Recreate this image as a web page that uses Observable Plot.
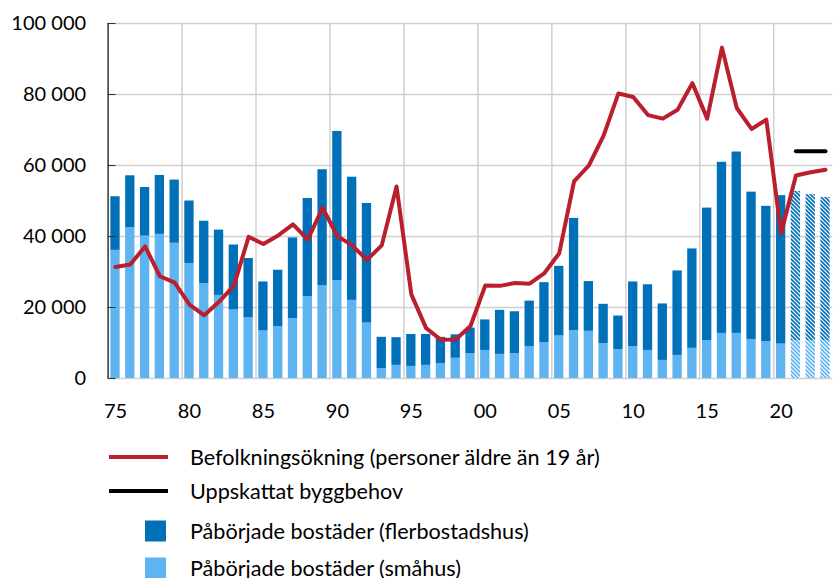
<!DOCTYPE html>
<html>
<head>
<meta charset="utf-8">
<script src="https://cdn.jsdelivr.net/npm/d3@7"></script>
<script src="https://cdn.jsdelivr.net/npm/@observablehq/plot@0.6"></script>
<style>
  body { margin: 0; background: #fff; }
  #chart { width: 838px; height: 578px; position: relative; overflow: hidden; }
  svg { display: block; }
</style>
</head>
<body>
<div id="chart"></div>
<script>
const years = [1975,1976,1977,1978,1979,1980,1981,1982,1983,1984,1985,1986,1987,1988,1989,
  1990,1991,1992,1993,1994,1995,1996,1997,1998,1999,2000,2001,2002,2003,2004,2005,2006,2007,
  2008,2009,2010,2011,2012,2013,2014,2015,2016,2017,2018,2019,2020,2021,2022,2023];
const labelYears = [1975,1980,1985,1990,1995,2000,2005,2010,2015,2020];
const gridYears = [1980,1985,1990,1995,2000,2005,2010,2015,2020];
const yTicks = [0,20000,40000,60000,80000,100000];

// Påbörjade bostäder (småhus)
const smahus = [36100,42500,40100,40600,38100,32400,26700,23400,19300,17100,13400,14600,16900,23100,26100,
  27600,22000,15600,2800,3700,3400,3700,4200,5700,7000,7900,6800,7000,9000,10100,12000,13500,13300,
  9800,8100,9000,7900,5100,6500,8500,10700,12700,12700,11000,10400,9700,10700,10700,10700];
// Påbörjade bostäder (flerbostadshus)
const flerbostadshus = [15100,14600,13700,16600,17800,17600,17600,18400,18300,16700,13800,15900,22700,27600,32700,
  42000,34700,33700,8800,7800,9000,8700,7400,6600,7200,8600,12400,11800,12800,16900,19600,31600,14000,
  11100,9500,18200,18500,15900,23800,28000,37300,48200,51100,41500,38100,41800,42000,41100,40300];
// Befolkningsökning (personer äldre än 19 år)
const befolkning = [31400,32100,37200,28800,27000,20800,17800,21600,26100,39900,37900,40300,43400,39100,48100,
  40100,37500,33400,37500,54100,23700,14200,10900,11000,14800,26200,26100,26900,26700,29700,35300,55500,60000,
  68400,80300,79300,74200,73200,75700,83200,73200,93200,76200,70300,72900,40900,57200,58100,58800];
// Uppskattat byggbehov
const byggbehovYears = [2021, 2023];
const byggbehovValues = [64000, 64000];
const forecastFrom = 2021;

const DARK = "#0070B8", LIGHT = "#5EB4F0", RED = "#BA1F2E", GRID = "#d0d0d0";
const FONT = "Lato, 'Open Sans', sans-serif";

const bars = years.flatMap((yr, i) => [
  {year: yr, type: "småhus", value: smahus[i], forecast: yr >= forecastFrom},
  {year: yr, type: "flerbostadshus", value: flerbostadshus[i], forecast: yr >= forecastFrom}
]);
const popLine = years.map((yr, i) => ({year: yr, value: befolkning[i]}));
const needLine = byggbehovYears.map((yr, i) => ({year: yr, value: byggbehovValues[i]}));

const width = 838, height = 430;
const mL = 107.6, mR = 5.6;
const step = (width - mL - mR) / years.length;

const fmt = d => d3.format(",")(d).replace(/,/g, " ");

const plot = Plot.plot({
  width, height,
  marginLeft: mL, marginRight: mR, marginTop: 23, marginBottom: 52,
  style: {fontFamily: FONT, fontSize: "20px", color: "#000", background: "#fff", overflow: "visible"},
  x: {type: "band", domain: years, paddingInner: 0.37, paddingOuter: 0.185, label: null},
  y: {domain: [0, 100000], label: null},
  color: {type: "identity"},
  marks: [
    Plot.ruleY(yTicks, {y: d => d, stroke: GRID, strokeWidth: 1.5}),
    Plot.ruleX(gridYears, {x: d => d, y1: 0, y2: 100000, dx: -step / 2, stroke: GRID, strokeWidth: 1.5}),
    Plot.barY(bars, Plot.stackY({
      x: "year", y: "value", z: "type", order: ["småhus", "flerbostadshus"],
      fill: d => d.forecast ? (d.type === "småhus" ? "url(#hatch-light)" : "url(#hatch-dark)") : (d.type === "småhus" ? LIGHT : DARK)
    })),
    Plot.ruleX([years[0]], {x: d => d, y1: 0, y2: 100000, dx: -step / 2, stroke: "#333", strokeWidth: 1.5}),
    Plot.line(popLine, {x: "year", y: "value", stroke: RED, strokeWidth: 4, strokeLinejoin: "round"}),
    Plot.line(needLine, {x: "year", y: "value", stroke: "#000", strokeWidth: 4, strokeLinecap: "round"}),
    Plot.axisY({ticks: yTicks, tickFormat: fmt, tickSize: 8, dx: 8, tickPadding: 22, stroke: "#333", fill: "#000", label: null}),
    Plot.axisX({ticks: labelYears, tickFormat: d => String(d).slice(2), tickSize: 0, tickPadding: 25, fill: "#000", label: null})
  ]
});

const ns = "http://www.w3.org/2000/svg";
const defs = document.createElementNS(ns, "defs");
defs.innerHTML = `
  <pattern id="hatch-dark" patternUnits="userSpaceOnUse" width="4" height="4">
    <rect width="4" height="4" fill="#fff"/>
    <path d="M-1,-1L5,5M-1,3L1,5M3,-1L5,1" stroke="${DARK}" stroke-width="1.6"/>
  </pattern>
  <pattern id="hatch-light" patternUnits="userSpaceOnUse" width="4" height="4">
    <rect width="4" height="4" fill="#fff"/>
    <path d="M-1,-1L5,5M-1,3L1,5M3,-1L5,1" stroke="${LIGHT}" stroke-width="1.6"/>
  </pattern>`;
plot.insertBefore(defs, plot.firstChild);
document.getElementById("chart").appendChild(plot);

// Legend below the plot
const legendItems = [
  {kind: "line", color: RED, label: "Befolkningsökning (personer äldre än 19 år)"},
  {kind: "line", color: "#000", label: "Uppskattat byggbehov"},
  {kind: "rect", color: DARK, label: "Påbörjade bostäder (flerbostadshus)"},
  {kind: "rect", color: LIGHT, label: "Påbörjade bostäder (småhus)"}
];
const rowCenters = [27, 61, 101, 138];
const leg = d3.select("#chart").append("svg")
  .attr("width", 838).attr("height", 148)
  .style("font-family", FONT).style("font-size", "21.6px");
legendItems.forEach((it, i) => {
  const cy = rowCenters[i];
  if (it.kind === "line") {
    leg.append("line").attr("x1", 109).attr("x2", 168).attr("y1", cy).attr("y2", cy)
      .attr("stroke", it.color).attr("stroke-width", 4);
  } else {
    leg.append("rect").attr("x", 145).attr("y", cy - 10.5).attr("width", 21).attr("height", 21)
      .attr("fill", it.color);
  }
  leg.append("text").attr("x", 190).attr("y", cy + 8).attr("fill", "#000").text(it.label);
});
</script>
</body>
</html>
